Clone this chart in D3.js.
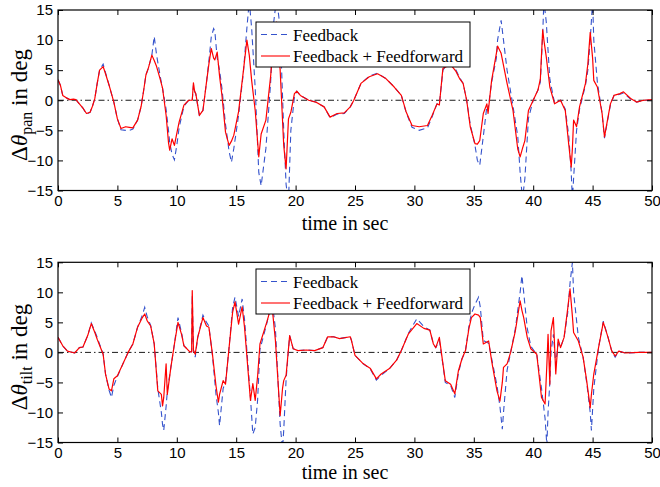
<!DOCTYPE html>
<html lang="en">
<head>
<meta charset="UTF-8">
<script src="https://d3js.org/d3.v7.min.js"></script>
<style>
  body { margin: 0; background: #fff; }
  svg { font-family: "Liberation Serif", "Times New Roman", serif; }
  .tick text { font-size: 15px; fill: #000; }
  .tick line { stroke: #000; stroke-width: 1; }
</style>
</head>
<body>
<svg class="chart"></svg>
<script>

// ---- data ----
const xTicks = [0, 5, 10, 15, 20, 25, 30, 35, 40, 45, 50];
const yTicks = [-15, -10, -5, 0, 5, 10, 15];
const seriesNames = ["Feedback", "Feedback + Feedforward"];

const panTime = [0,0.2,0.4,0.7,1.0,1.3,1.5,1.8,2.1,2.4,2.7,2.9,3.1,3.3,3.5,3.8,4.0,4.3,4.7,5.0,
  5.3,5.7,6.0,6.3,6.7,7.0,7.2,7.4,7.6,7.9,8.1,8.3,8.6,8.8,9.1,9.3,9.4,9.6,9.8,10.0,
  10.2,10.6,11.0,11.3,11.4,11.5,11.6,11.9,12.2,12.5,12.7,12.9,13.1,13.2,13.4,13.6,13.8,14.1,14.4,14.6,
  14.8,15.2,15.6,15.9,16.1,16.3,16.6,16.9,17.1,17.5,17.9,18.1,18.4,18.7,19.0,19.2,19.4,19.6,19.9,20.1,
  20.4,21.1,21.7,22.4,22.9,23.5,24.1,24.6,24.9,25.5,26.2,26.9,27.6,28.3,28.9,29.3,29.8,30.4,31.1,31.5,
  31.9,32.1,32.4,32.7,33.1,33.5,33.8,34.1,34.4,34.7,35.1,35.3,35.5,35.8,36.1,36.2,36.5,36.9,37.0,37.3,
  37.8,38.3,38.7,38.9,39.1,39.3,39.6,40.0,40.4,40.6,40.8,40.9,41.1,41.4,41.8,42.3,42.7,43.0,43.2,43.3,
  43.4,43.65,43.9,44.4,44.6,44.8,45.0,45.1,45.4,45.8,46.0,46.2,46.5,46.8,47.3,47.6,48.2,48.7,49.3,50];

const panFeedforward = [3.4,2.5,0.8,0.4,0.1,0.2,0.1,-0.6,-1.3,-2.2,-2.0,-1.0,0.3,2.8,5.0,5.6,4.4,2.5,-0.3,-3.1,
  -4.7,-4.4,-4.5,-4.6,-3.3,-1.0,1.5,4.2,5.3,7.5,6.6,5.6,3.5,2.0,-2.5,-7.0,-8.3,-6.4,-7.5,-5.5,
  -3.6,-0.8,0.0,0.0,2.9,1.5,1.1,-2.5,-1.7,3.0,6.0,8.6,7.0,6.7,8.0,4.0,0.8,-5.3,-7.5,-6.8,
  -5.8,-1.9,4.8,10.0,7.5,3.3,-1.7,-9.4,-5.6,-3.3,4.0,9.0,13.0,5.0,-7.5,-11.4,-3.1,-2.0,1.1,1.5,
  0.8,0.0,-0.3,-1.1,-2.8,-2.2,-2.1,-1.1,0.0,2.8,3.9,4.4,3.6,2.2,0.8,-1.9,-4.2,-4.4,-4.2,-2.5,
  -0.6,-0.8,5.3,5.6,5.8,4.8,3.6,2.8,0.0,-4.4,-7.2,-7.3,-6.7,-2.2,-0.6,-2.2,3.3,7.8,9.0,7.8,
  2.8,-1.7,-8.1,-9.4,-8.0,-6.7,-1.7,0.0,1.7,3.5,11.7,10.0,7.2,2.2,-0.6,0.0,-1.7,-7.5,-11.1,-8.0,
  -3.3,-4.4,-1.1,2.8,6.0,11.3,7.0,3.3,2.2,-2.2,-6.1,-3.9,-0.6,0.8,1.1,1.4,0.3,-0.3,0.0,0.1];

const panFeedback = [3.4,2.5,0.8,0.4,0.1,0.2,0.1,-0.6,-1.3,-2.3,-2.0,-1.0,0.3,2.8,5.0,6.0,4.6,2.5,-0.3,-3.1,
  -4.9,-5.0,-5.0,-4.8,-3.3,-1.0,1.5,4.2,5.3,7.5,10.6,7.5,4.0,2.0,-1.5,-5.0,-7.0,-9.0,-9.9,-7.5,
  -4.5,-1.0,0.0,0.0,2.5,1.5,1.0,-2.5,-1.7,3.0,6.5,10.5,11.9,11.5,7.0,5.0,2.0,-4.0,-8.5,-10.3,
  -8.0,-2.5,4.5,12.0,16.5,12.0,2.0,-12.0,-14.2,-8.0,3.0,12.0,17.0,12.0,-5.0,-14.0,-17.0,-5.0,0.5,1.5,
  0.8,0.0,-0.3,-1.1,-2.9,-2.3,-2.2,-1.1,0.0,2.8,4.0,4.5,3.6,2.2,0.8,-2.0,-4.5,-5.0,-4.6,-2.7,
  -0.6,-0.7,5.0,5.8,6.0,5.0,3.8,2.8,0.0,-4.0,-7.5,-10.0,-10.8,-6.0,-1.0,-1.5,3.0,7.0,10.0,13.3,
  5.0,-1.0,-6.0,-12.0,-16.5,-13.0,-3.0,0.0,1.7,3.0,11.0,16.5,13.0,3.5,-0.5,0.0,-1.5,-6.0,-12.0,-16.5,
  -13.0,-5.0,-1.5,2.5,5.0,10.0,16.5,10.0,3.0,-2.2,-6.3,-4.0,-0.8,0.8,1.0,1.2,0.2,-0.3,0.0,0.0];

const tiltTime = [0,0.4,0.8,1.4,1.8,2.1,2.5,2.8,3.1,3.3,3.8,4.0,4.3,4.5,4.7,5.0,5.4,5.9,6.3,6.7,
  7.1,7.3,7.5,7.8,8.1,8.4,8.7,8.8,8.9,9.1,9.2,9.5,9.8,10.1,10.4,10.6,11.1,11.25,11.3,11.4,
  11.55,11.76,12.2,12.5,12.7,13.0,13.3,13.5,13.6,13.9,14.1,14.4,14.7,14.9,15.2,15.5,15.7,16.2,16.4,16.6,
  16.8,17.0,17.6,18.0,18.3,18.7,18.9,19.0,19.2,19.5,19.8,20.2,20.9,21.6,22.3,22.7,23.2,23.7,24.6,24.7,
  25.0,25.7,26.3,26.8,27.2,27.9,28.5,28.9,29.5,30.2,30.8,31.3,31.6,31.8,32.1,32.4,32.6,33.05,33.4,33.7,
  34.0,34.3,34.6,34.8,35.1,35.4,35.55,35.8,36.25,36.5,36.95,37.2,37.4,37.5,37.8,38.1,38.5,38.9,39.05,39.2,
  39.5,39.8,40.3,40.7,41.0,41.15,41.25,41.4,41.5,41.7,41.9,42.1,42.3,42.6,42.9,43.1,43.3,43.4,43.8,44.2,
  44.5,44.8,44.9,45.1,45.5,45.9,46.3,46.6,46.9,47.2,47.75,48.9,50];

const tiltFeedforward = [2.5,1.1,0.2,-0.1,0.8,0.9,2.8,4.8,3.3,2.2,-0.3,-3.6,-6.1,-6.4,-4.4,-3.9,-2.2,0.0,1.4,4.2,
  5.8,6.4,5.3,4.4,1.4,-6.4,-7.0,-8.9,-7.5,-1.9,-7.0,-2.5,1.4,5.0,3.0,1.1,0.1,0.1,10.3,0.3,
  -0.3,2.5,5.8,4.4,4.2,-0.3,-5.6,-8.3,-7.0,-4.7,-5.3,0.8,6.7,8.4,4.7,7.6,4.2,-8.0,-5.2,-8.0,
  -4.0,1.4,5.2,8.0,2.0,-10.5,-6.0,-4.7,-3.8,2.8,0.6,0.3,0.4,0.3,0.8,2.6,2.6,2.3,2.6,2.0,
  -0.5,-1.9,-2.7,-4.4,-3.6,-2.7,-1.3,0.3,3.1,4.8,4.0,3.7,1.4,0.8,2.5,-1.9,-4.7,-5.3,-6.9,-3.1,
  -1.1,0.3,4.1,5.8,6.4,6.2,5.8,1.4,1.9,-1.4,-6.4,-8.1,-5.0,-2.5,-1.9,0.0,3.6,8.6,7.0,5.8,
  2.5,0.6,-0.3,-7.5,-8.6,-2.0,3.0,-5.3,3.6,5.8,-3.6,2.2,0.8,2.5,7.2,10.6,6.0,3.3,1.9,-0.8,
  -4.7,-9.2,-7.0,-3.6,0.8,5.0,2.5,0.3,-0.6,0.2,-0.1,0.0,0.0];

const tiltFeedback = [2.5,1.1,0.2,-0.1,0.8,0.9,2.8,4.9,3.5,2.5,-0.3,-3.6,-6.3,-7.5,-5.5,-4.0,-2.2,0.0,1.4,4.2,
  6.2,7.5,6.0,4.5,1.4,-6.0,-10.0,-12.0,-13.0,-9.0,-6.5,-2.5,1.4,5.8,3.3,1.1,0.1,0.1,9.5,0.5,
  -0.8,2.5,6.2,5.0,4.4,-0.5,-7.0,-10.0,-12.2,-6.0,-5.0,0.8,7.5,9.2,6.0,8.9,5.5,-7.5,-13.6,-12.5,
  -8.0,0.5,5.0,9.0,4.0,-12.0,-16.0,-13.0,-4.5,2.8,0.6,0.3,0.4,0.3,0.8,2.6,2.6,2.3,2.6,2.0,
  -0.5,-1.9,-2.8,-4.6,-3.8,-2.7,-1.3,0.3,3.2,5.6,4.3,3.7,1.4,0.8,2.0,-2.0,-5.0,-5.5,-7.5,-3.5,
  -1.1,0.3,4.5,6.5,8.0,9.2,7.5,2.0,1.5,-1.0,-5.5,-9.0,-12.8,-10.0,-3.0,0.0,4.0,10.0,12.8,10.0,
  4.0,1.0,-0.3,-6.0,-11.0,-15.5,-10.0,-5.0,0.0,3.0,-2.0,1.5,0.8,2.5,6.5,11.5,15.0,10.0,2.5,-0.8,
  -5.0,-10.0,-13.0,-6.0,0.8,5.2,2.5,0.3,-0.8,0.2,-0.1,0.0,0.0];

// ---- layout ----
const width = 660, height = 487;
const left = 58, right = 652;
const panels = [
  {top: 10, bottom: 190.5, time: panTime, fb: panFeedback, ff: panFeedforward, sub: "pan",
   labelY: 105, xlabelY: 230, legendY: 22},
  {top: 262.3, bottom: 442.5, time: tiltTime, fb: tiltFeedback, ff: tiltFeedforward, sub: "tilt",
   labelY: 357, xlabelY: 479, legendY: 269}
];

const svg = d3.select(".chart")
    .attr("width", width)
    .attr("height", height);

const x = d3.scaleLinear().domain([0, 50]).range([left, right]);

panels.forEach((p, i) => {
  const y = d3.scaleLinear().domain([-15, 15]).range([p.bottom, p.top]);
  const g = svg.append("g");

  g.append("clipPath").attr("id", "clip" + i)
    .append("rect")
      .attr("x", left).attr("y", p.top)
      .attr("width", right - left).attr("height", p.bottom - p.top);

  // zero reference line
  g.append("line")
      .attr("x1", x(0)).attr("x2", x(50))
      .attr("y1", y(0)).attr("y2", y(0))
      .attr("stroke", "#000")
      .attr("stroke-width", 0.9)
      .attr("stroke-dasharray", "6,3,1.5,3");

  const line = d3.line()
      .x(d => x(d[0]))
      .y(d => y(d[1]));

  const lines = g.append("g").attr("clip-path", `url(#clip${i})`);
  lines.append("path")
      .datum(d3.zip(p.time, p.fb))
      .attr("fill", "none")
      .attr("stroke", "#3553cc")
      .attr("stroke-width", 1.1)
      .attr("stroke-dasharray", "6,4")
      .attr("d", line);
  lines.append("path")
      .datum(d3.zip(p.time, p.ff))
      .attr("fill", "none")
      .attr("stroke", "#ff0000")
      .attr("stroke-width", 1.2)
      .attr("stroke-linejoin", "round")
      .attr("d", line);

  // axes, ticks pointing inward
  g.append("g")
      .attr("transform", `translate(0,${p.bottom})`)
      .call(d3.axisBottom(x).tickValues(xTicks).tickSize(-5).tickPadding(5).tickFormat(d3.format("d")))
      .call(a => a.select(".domain").remove());
  g.append("g")
      .attr("transform", `translate(0,${p.top})`)
      .call(d3.axisTop(x).tickValues(xTicks).tickSize(-5).tickFormat(""))
      .call(a => a.select(".domain").remove());
  g.append("g")
      .attr("transform", `translate(${left},0)`)
      .call(d3.axisLeft(y).tickValues(yTicks).tickSize(-5).tickPadding(5))
      .call(a => a.select(".domain").remove());
  g.append("g")
      .attr("transform", `translate(${right},0)`)
      .call(d3.axisRight(y).tickValues(yTicks).tickSize(-5).tickFormat(""))
      .call(a => a.select(".domain").remove());

  g.append("rect")
      .attr("x", left).attr("y", p.top)
      .attr("width", right - left).attr("height", p.bottom - p.top)
      .attr("fill", "none")
      .attr("stroke", "#000")
      .attr("stroke-width", 1.2);

  // axis labels
  g.append("text")
      .attr("x", 345).attr("y", p.xlabelY)
      .attr("text-anchor", "middle")
      .style("font-size", "20px")
      .text("time in sec");

  const yl = g.append("text")
      .attr("transform", `translate(27,${p.labelY}) rotate(-90)`)
      .attr("text-anchor", "middle")
      .style("font-size", "23px");
  yl.append("tspan").text("Δ");
  yl.append("tspan").style("font-style", "italic").text("θ");
  yl.append("tspan").attr("dy", 5).style("font-size", "16px").text(p.sub);
  yl.append("tspan").attr("dy", -5).text(" in deg");

  // legend
  const lg = g.append("g").attr("transform", `translate(256,${p.legendY})`);
  lg.append("rect")
      .attr("width", 214).attr("height", 45)
      .attr("fill", "#fff")
      .attr("stroke", "#000")
      .attr("stroke-width", 1);
  const styles = [
    {stroke: "#3553cc", dash: "6,4"},
    {stroke: "#ff0000", dash: null}
  ];
  seriesNames.forEach((name, k) => {
    const yy = 12.5 + k * 21.5;
    lg.append("line")
        .attr("x1", 5).attr("x2", 34)
        .attr("y1", yy).attr("y2", yy)
        .attr("stroke", styles[k].stroke)
        .attr("stroke-width", 1.1)
        .attr("stroke-dasharray", styles[k].dash);
    lg.append("text")
        .attr("x", 37).attr("y", yy + 6)
        .style("font-size", "17px")
        .text(name);
  });
});

</script>
</body>
</html>
